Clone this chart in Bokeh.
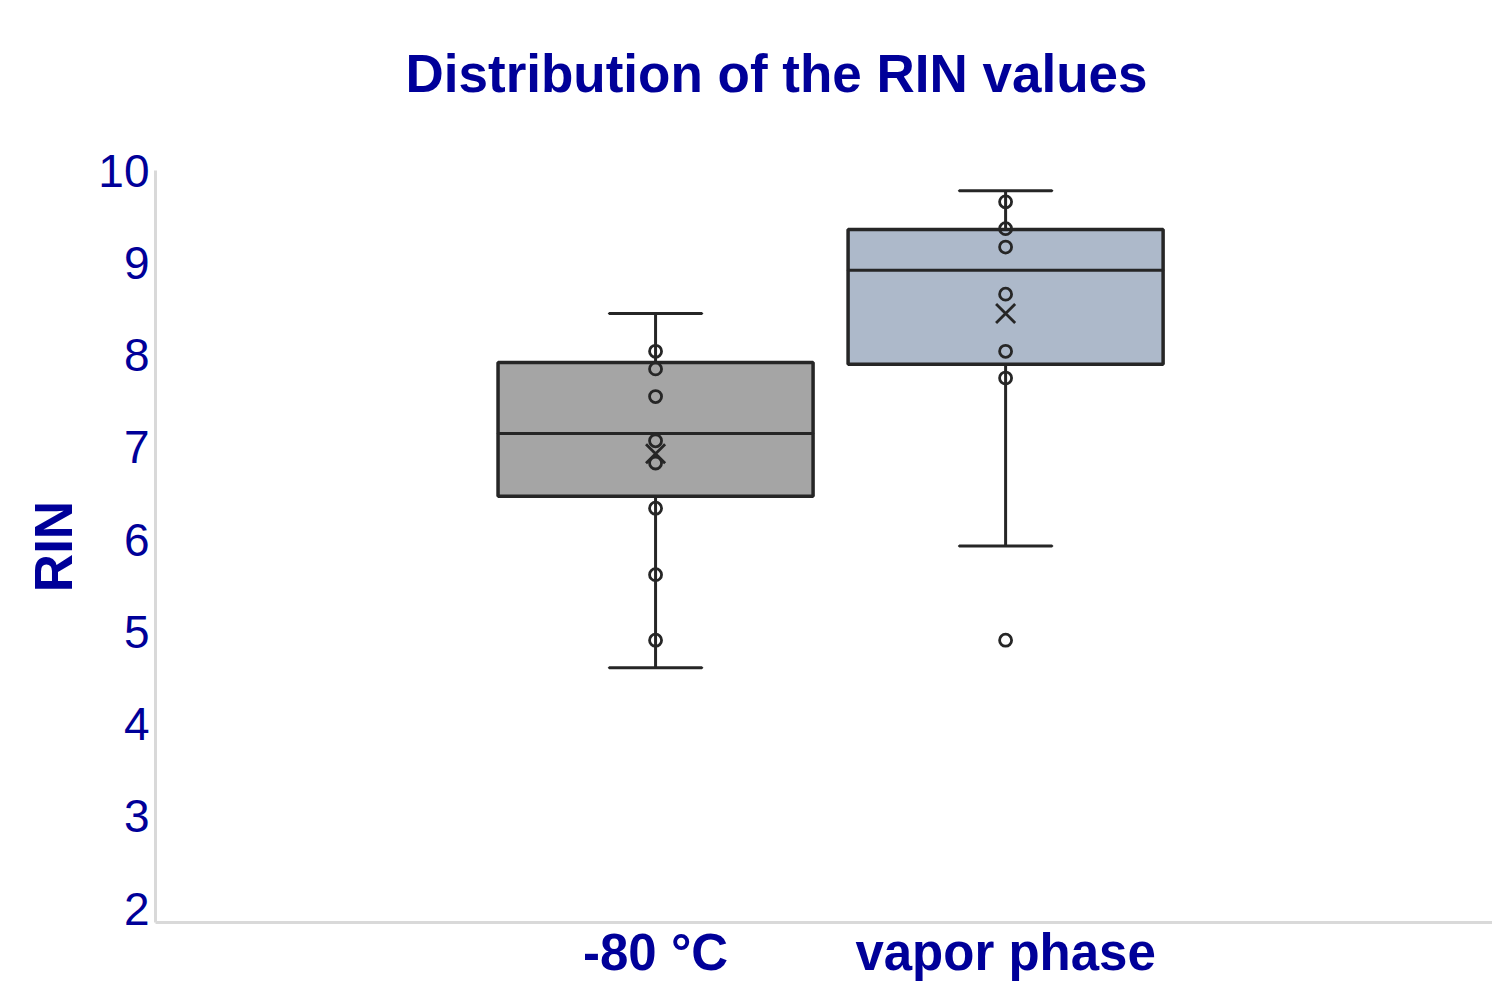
from bokeh.plotting import figure
from bokeh.models import Range1d, FixedTicker, ColumnDataSource, Title
from bokeh.embed import file_html
from bokeh.resources import INLINE

# ---- data ----
categories = ["-80 °C", "vapor phase"]
cat_pos = [1, 2]
q1 = [6.47, 7.90]
median = [7.15, 8.92]
q3 = [7.92, 9.36]
whisker_low = [4.61, 5.93]
whisker_high = [8.45, 9.78]
means = [6.93, 8.45]
box_colors = ["#a5a5a5", "#adb9ca"]

points_80 = [8.04, 7.85, 7.55, 7.07, 6.83, 6.34, 5.62, 4.91]
points_vapor = [9.66, 9.37, 9.17, 8.66, 8.04, 7.75, 4.91]
y_ticks = [2, 3, 4, 5, 6, 7, 8, 9, 10]
title_text = "Distribution of the RIN values"

BLUE = "#000099"
DARK = "#262626"
FONT = "Liberation Sans"

p = figure(width=1492, height=983, output_backend="svg", toolbar_location=None,
           x_range=Range1d(-0.4286, 3.391), y_range=Range1d(1.85, 10.0),
           min_border_left=155, min_border_right=0, min_border_top=170,
           min_border_bottom=50)

p.title.text = title_text
p.title.text_font = FONT
p.title.text_font_size = "53px"
p.title.text_font_style = "bold"
p.title.text_color = BLUE
p.title.align = "left"
p.title.offset = 250
p.title.vertical_align = "top"
p.title.standoff = 0

# spacer between title and plot area
p.add_layout(Title(text=" ", text_font_size="57px", standoff=0), "above")

p.grid.visible = False
p.outline_line_color = None
p.background_fill_color = "white"
p.border_fill_color = "white"

# y axis
ya = p.yaxis[0]
ya.ticker = FixedTicker(ticks=y_ticks)
ya.major_tick_line_color = None
ya.minor_tick_line_color = None
ya.axis_line_color = "#d9d9d9"
ya.axis_line_width = 3
ya.major_label_text_font = FONT
ya.major_label_text_font_size = "46px"
ya.major_label_text_color = BLUE
ya.major_label_standoff = 0
ya.axis_label = "RIN"
ya.axis_label_text_font = FONT
ya.axis_label_text_font_size = "53px"
ya.axis_label_text_font_style = "bold"
ya.axis_label_text_color = BLUE
ya.axis_label_standoff = 12

# x axis
xa = p.xaxis[0]
xa.ticker = FixedTicker(ticks=cat_pos)
xa.major_label_overrides = {pos: lab for pos, lab in zip(cat_pos, categories)}
xa.major_tick_line_color = None
xa.minor_tick_line_color = None
xa.axis_line_color = "#d9d9d9"
xa.axis_line_width = 3
xa.major_label_text_font = FONT
xa.major_label_text_font_size = "51px"
xa.major_label_text_font_style = "bold"
xa.major_label_text_color = BLUE
xa.major_label_standoff = -5

src = ColumnDataSource(dict(x=cat_pos, q1=q1, q3=q3, med=median, lo=whisker_low,
                            hi=whisker_high, mean=means, color=box_colors))

# whiskers
p.segment(x0="x", y0="q3", x1="x", y1="hi", source=src, line_color=DARK, line_width=3)
p.segment(x0="x", y0="lo", x1="x", y1="q1", source=src, line_color=DARK, line_width=3)
# caps
cap_w = 0.265
p.rect(x="x", y="hi", width=cap_w, height=0.0001, source=src, line_color=DARK, line_width=3, fill_color=None)
p.rect(x="x", y="lo", width=cap_w, height=0.0001, source=src, line_color=DARK, line_width=3, fill_color=None)
# boxes
box_w = 0.9
p.vbar(x="x", bottom="q1", top="q3", width=box_w, source=src, fill_color="color",
       line_color=DARK, line_width=3.5)
p.rect(x="x", y="med", width=box_w, height=0.0001, source=src, line_color=DARK, line_width=3, fill_color=None)

# points
px = [cat_pos[0]] * len(points_80) + [cat_pos[1]] * len(points_vapor)
py = points_80 + points_vapor
p.scatter(px, py, marker="circle", size=12, fill_color=None, line_color=DARK, line_width=2.8)

# means
p.scatter(x="x", y="mean", source=src, marker="x", size=27, line_color=DARK, line_width=2.8)

open("out.html", "w").write(file_html(p, INLINE))
